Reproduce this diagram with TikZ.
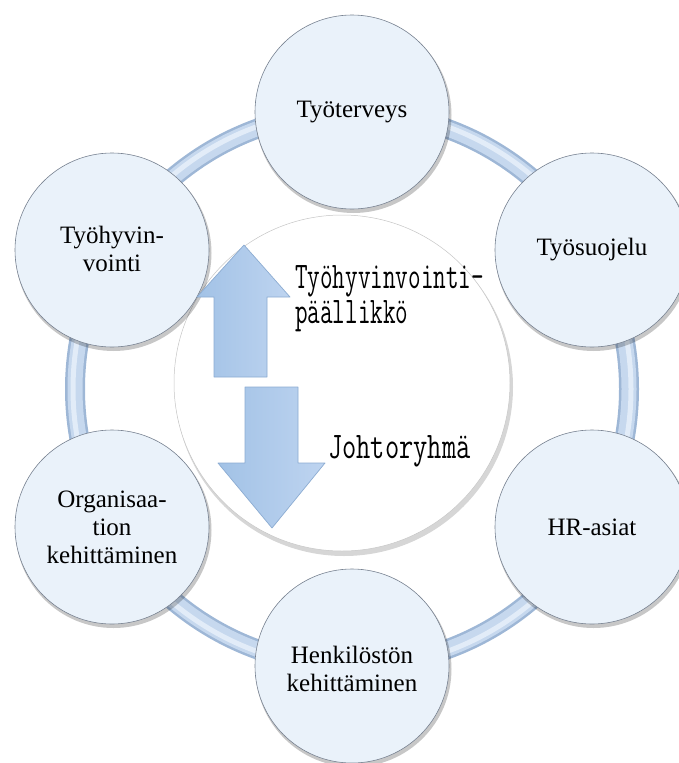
\documentclass[tikz,border=0pt]{standalone}
\usepackage{fontspec}
\usepackage{graphicx}
\setmainfont{Liberation Serif}
\usetikzlibrary{shadings,calc}

\definecolor{bubfill}{RGB}{234,242,250}
\definecolor{bubmid}{RGB}{222,233,246}
\definecolor{bubedge}{RGB}{190,205,225}
\definecolor{bubdark}{RGB}{120,130,145}
\definecolor{ringdark}{RGB}{158,183,214}
\definecolor{ringmid}{RGB}{198,216,238}
\definecolor{ringlight}{RGB}{226,236,248}
\definecolor{arrowA}{RGB}{162,194,230}
\definecolor{arrowB}{RGB}{190,212,240}
\definecolor{arrowline}{RGB}{140,172,210}

\pgfdeclareradialshading{bubble}{\pgfpoint{0bp}{0bp}}{%
  color(0bp)=(bubfill); color(38bp)=(bubfill); color(44bp)=(bubmid);
  color(47.5bp)=(bubedge); color(50bp)=(bubdark)}

\tikzset{
  bubble/.style={shading=bubble, draw=bubdark, line width=0.6pt},
  bubshadow/.style={fill=black, opacity=0.22},
  bubtext/.style={font=\fontsize{25}{28}\selectfont, align=center, text=black},
  updown/.style={left color=arrowA, right color=arrowB, draw=arrowline, line width=0.7pt, line join=round},
  slabtext/.style={inner sep=0pt, font=\ttfamily\fontsize{37.6}{35}\selectfont}
}

\begin{document}
\begin{tikzpicture}[x=1pt, y=-1pt]
\useasboundingbox (0,0) rectangle (679,763);

% centre of the ring and positions of the six topics
\coordinate (ctr) at (352,389);
\coordinate (p1) at (352,112);
\coordinate (p2) at (592,250);
\coordinate (p3) at (592,527);
\coordinate (p4) at (352,666);
\coordinate (p5) at (112,527);
\coordinate (p6) at (112,250);

% the connecting ring
\draw[ringdark, line width=20pt] (ctr) circle (277);
\draw[ringmid, line width=15pt] (ctr) circle (277);
\draw[ringlight, line width=5pt] (ctr) circle (279);

% central disc
\fill[black, opacity=0.16] (344,387) circle (169);
\fill[white] (342,383) circle (168);
\draw[gray!45, line width=0.5pt] (342,383) circle (168);

% topic bubbles
\foreach \p in {p1,p2,p3,p4,p5,p6}{
  \fill[bubshadow] ($(\p)+(1.5,3)$) circle (98);
  \path[bubble] (\p) circle (97);
}

\node[bubtext] (n1) at (p1) {Työterveys};
\node[bubtext] (n2) at (p2) {Työsuojelu};
\node[bubtext] (n3) at (p3) {HR-asiat};
\node[bubtext] (n4) at ($(p4)+(0,3)$) {Henkilöstön\\kehittäminen};
\node[bubtext] (n5) at (p5) {Organisaa-\\tion\\kehittäminen};
\node[bubtext] (n6) at ($(p6)+(0,-1)$) {Työhyvin-\\vointi};

% up and down arrows
\path[updown] (244,245) -- (290,297) -- (267,297) -- (267,377) -- (214,377)
  -- (214,297) -- (197,297) -- cycle;
\path[updown] (245,387) -- (298,387) -- (298,463) -- (325,463) -- (272,528)
  -- (218,463) -- (245,463) -- cycle;

% labels of the arrows
\node[slabtext, anchor=north west, align=left] (up) at (295,265)
  {\scalebox{0.65}[1]{Työhyvinvointi-}\\\scalebox{0.65}[1]{päällikkö}};
\node[slabtext, anchor=base west] (down) at (328,458)
  {\scalebox{0.735}[1]{Johtoryhmä}};
\end{tikzpicture}
\end{document}
